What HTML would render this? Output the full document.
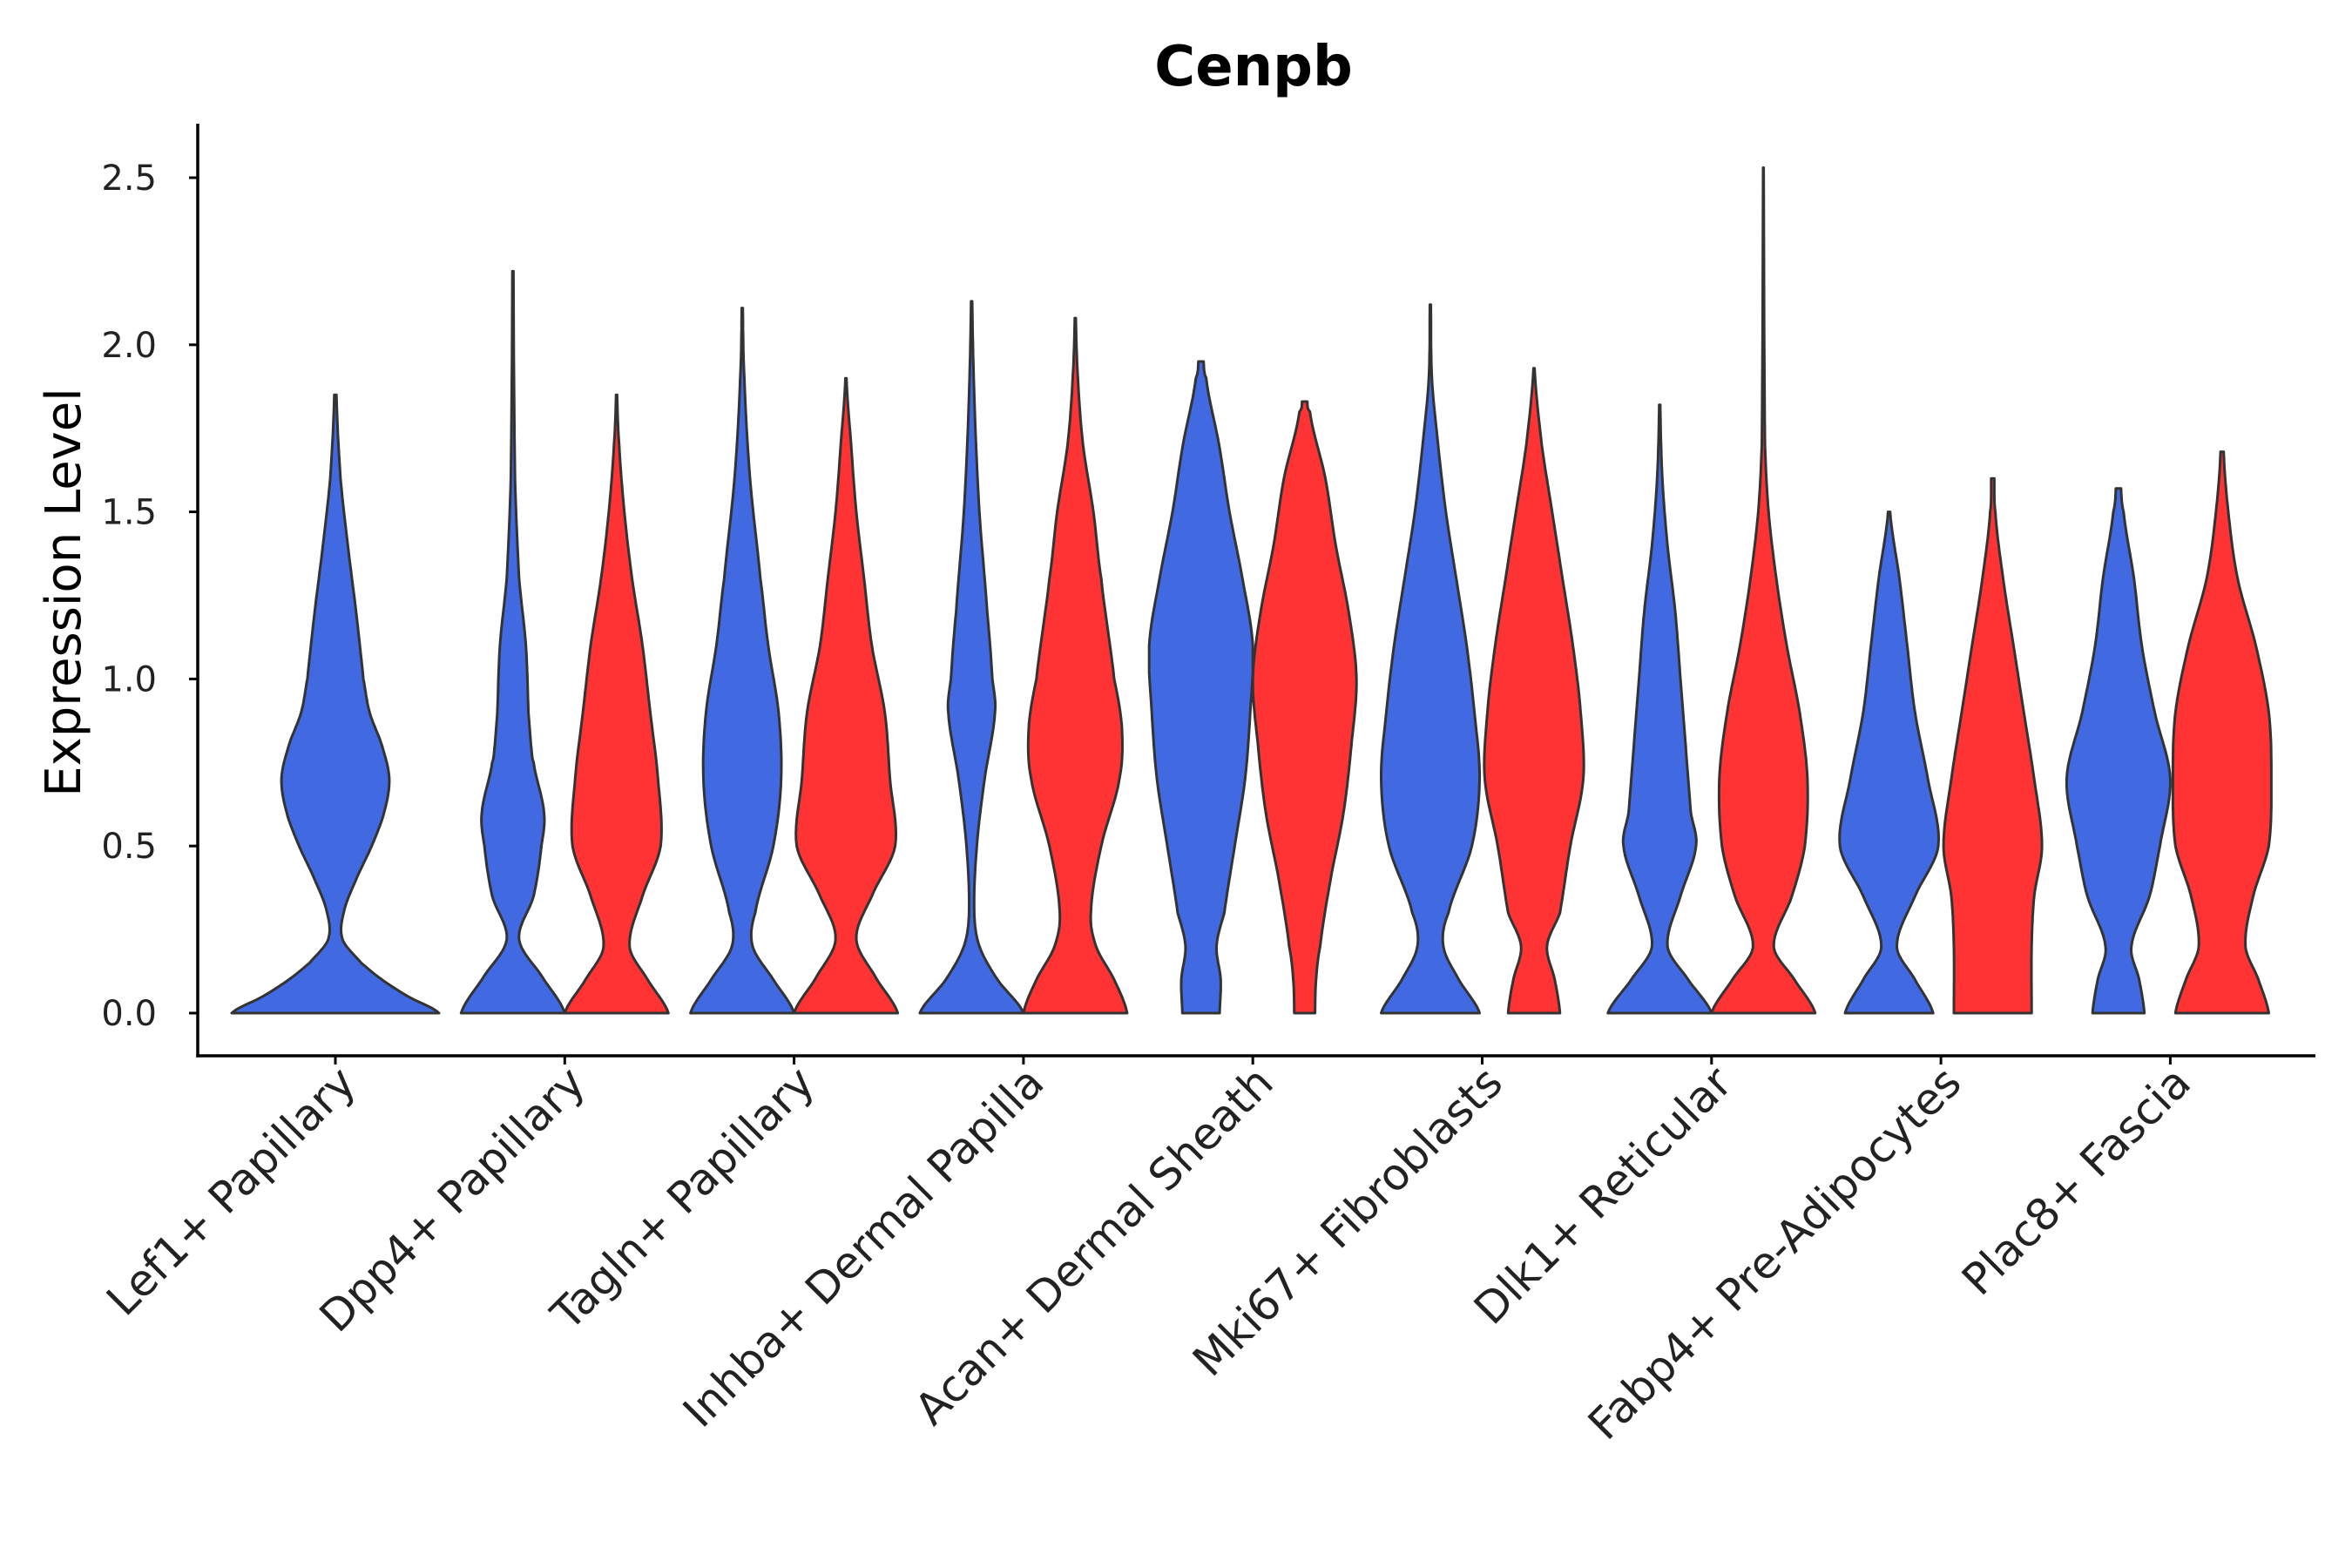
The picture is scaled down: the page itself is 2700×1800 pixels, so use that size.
<!DOCTYPE html>
<html><head><meta charset="utf-8"><style>
html,body{margin:0;padding:0;background:#fff;}
svg{display:block;font-family:"DejaVu Sans","Liberation Sans",sans-serif;}
</style></head><body>
<svg id="chart" width="2700" height="1800" viewBox="0 0 2700 1800" xmlns="http://www.w3.org/2000/svg">
<rect width="2700" height="1800" fill="#fff"/>
<text x="1439" y="98" text-anchor="middle" font-size="64" font-weight="bold">Cenpb</text>
<text transform="translate(92,680) rotate(-90)" text-anchor="middle" font-size="56">Expression Level</text>
<g id="violins"></g>
<g id="axes"></g>
</svg>
<script>
const categories = ["Lef1+ Papillary","Dpp4+ Papillary","Tagln+ Papillary","Inhba+ Dermal Papilla","Acan+ Dermal Sheath","Mki67+ Fibroblasts","Dlk1+ Reticular","Fabp4+ Pre-Adipocytes","Plac8+ Fascia"];
const yTicks = [0,0.5,1.0,1.5,2.0,2.5];
const yTickLabels = ["0.0","0.5","1.0","1.5","2.0","2.5"];
const violinCats = [0,1,1,2,2,3,3,4,4,5,5,6,6,7,7,8,8];
const violinGroups = [-1,0,1,0,1,0,1,0,1,0,1,0,1,0,1,0,1];
const violinProfiles = [
 [[0,1],[0.05,0.7],[0.1,0.45],[0.15,0.25],[0.22,0.07],[0.3,0.08],[0.4,0.2],[0.5,0.35],[0.6,0.47],[0.7,0.52],[0.8,0.45],[0.9,0.33],[1.0,0.27],[1.2,0.2],[1.4,0.12],[1.6,0.05],[1.85,0.01]],
 [[0,1],[0.1,0.6],[0.22,0.12],[0.35,0.4],[0.5,0.55],[0.6,0.6],[0.75,0.4],[0.8,0.35],[0.9,0.3],[1.1,0.25],[1.3,0.12],[1.6,0.04],[2.22,0.01]],
 [[0,1],[0.1,0.6],[0.2,0.25],[0.35,0.5],[0.5,0.85],[0.7,0.8],[0.9,0.65],[1.1,0.5],[1.3,0.3],[1.5,0.15],[1.7,0.05],[1.85,0.01]],
 [[0,1],[0.1,0.6],[0.2,0.2],[0.3,0.25],[0.5,0.6],[0.7,0.75],[0.9,0.7],[1.1,0.5],[1.3,0.35],[1.6,0.15],[1.9,0.04],[2.11,0.01]],
 [[0,1],[0.1,0.6],[0.22,0.2],[0.35,0.5],[0.5,0.95],[0.7,0.85],[0.9,0.75],[1.1,0.5],[1.3,0.35],[1.5,0.2],[1.7,0.1],[1.9,0.01]],
 [[0,1],[0.1,0.5],[0.2,0.15],[0.3,0.05],[0.5,0.1],[0.7,0.25],[0.9,0.45],[1.0,0.4],[1.2,0.3],[1.5,0.15],[1.8,0.06],[2.13,0.01]],
 [[0,1],[0.1,0.75],[0.2,0.4],[0.3,0.3],[0.5,0.5],[0.7,0.85],[0.85,0.9],[1.0,0.75],[1.3,0.5],[1.5,0.35],[1.7,0.15],[1.9,0.05],[2.08,0.01]],
 [[0,0.36],[0.1,0.38],[0.2,0.3],[0.3,0.45],[0.5,0.65],[0.7,0.85],[0.9,0.95],[1.1,1.0],[1.3,0.8],[1.5,0.55],[1.7,0.35],[1.9,0.1],[1.95,0.05]],
 [[0,0.2],[0.1,0.22],[0.2,0.3],[0.4,0.5],[0.6,0.75],[0.8,0.9],[1.0,1.0],[1.2,0.85],[1.4,0.6],[1.6,0.4],[1.8,0.1],[1.83,0.05]],
 [[0,0.95],[0.1,0.55],[0.2,0.25],[0.3,0.35],[0.5,0.8],[0.7,0.95],[0.9,0.85],[1.1,0.7],[1.3,0.5],[1.5,0.3],[1.7,0.15],[1.9,0.03],[2.12,0.01]],
 [[0,0.5],[0.1,0.4],[0.2,0.25],[0.3,0.5],[0.5,0.7],[0.7,0.95],[0.9,0.9],[1.1,0.75],[1.3,0.55],[1.5,0.35],[1.7,0.15],[1.93,0.01]],
 [[0,1],[0.1,0.55],[0.2,0.15],[0.35,0.4],[0.5,0.7],[0.6,0.6],[0.8,0.5],[1.0,0.4],[1.2,0.3],[1.4,0.15],[1.6,0.05],[1.82,0.01]],
 [[0,1],[0.1,0.6],[0.2,0.2],[0.35,0.55],[0.5,0.8],[0.7,0.85],[0.9,0.7],[1.1,0.45],[1.3,0.25],[1.5,0.1],[1.7,0.03],[2.53,0.005]],
 [[0,0.85],[0.1,0.5],[0.2,0.15],[0.35,0.5],[0.5,0.95],[0.7,0.75],[0.9,0.5],[1.1,0.35],[1.3,0.2],[1.5,0.02]],
 [[0,0.75],[0.2,0.75],[0.35,0.8],[0.5,0.95],[0.7,0.8],[0.9,0.6],[1.1,0.4],[1.3,0.2],[1.5,0.05],[1.6,0.03]],
 [[0,0.5],[0.1,0.4],[0.2,0.25],[0.35,0.6],[0.5,0.8],[0.7,1.0],[0.9,0.7],[1.1,0.45],[1.3,0.3],[1.5,0.1],[1.57,0.05]],
 [[0,0.9],[0.1,0.7],[0.2,0.45],[0.35,0.6],[0.5,0.9],[0.7,0.95],[0.9,0.9],[1.1,0.65],[1.3,0.3],[1.5,0.12],[1.68,0.03]]
];
const groupColors = ["#4169E1","#FF3333"];
const NS="http://www.w3.org/2000/svg";
const X0=227,X1=2658,YA=1212,YT=142;
function yScale(v){return 1163 - v*383.6;}
function xCat(i){return 385 + i*263.3;}
const SPLIT=59.5;
const vg=document.getElementById('violins');
violinProfiles.forEach((prof,k)=>{
  const g=violinGroups[k];
  const cx = g<0 ? xCat(violinCats[k]) : xCat(violinCats[k]) + (g===0?-SPLIT:SPLIT);
  const hw = g<0 ? SPLIT*2 : SPLIT;
  const pts=[];
  for(let j=0;j<prof.length-1;j++){
    const p0=prof[Math.max(j-1,0)],p1=prof[j],p2=prof[j+1],p3=prof[Math.min(j+2,prof.length-1)];
    for(let t=0;t<1;t+=0.1){
      const t2=t*t,t3=t2*t;
      const w=0.5*((2*p1[1])+(-p0[1]+p2[1])*t+(2*p0[1]-5*p1[1]+4*p2[1]-p3[1])*t2+(-p0[1]+3*p1[1]-3*p2[1]+p3[1])*t3);
      pts.push([p1[0]+(p2[0]-p1[0])*t, Math.max(0.004,Math.min(1,w))]);
    }
  }
  pts.push(prof[prof.length-1]);
  let d='';
  pts.forEach((p,i)=>{d+=(i?'L':'M')+(cx+p[1]*hw).toFixed(1)+','+yScale(p[0]).toFixed(1);});
  for(let i=pts.length-1;i>=0;i--){const p=pts[i];d+='L'+(cx-p[1]*hw).toFixed(1)+','+yScale(p[0]).toFixed(1);}
  d+='Z';
  const path=document.createElementNS(NS,'path');
  path.setAttribute('d',d);
  path.setAttribute('fill',groupColors[g<0?0:g]);
  path.setAttribute('stroke','#333');
  path.setAttribute('stroke-width','3');
  path.setAttribute('stroke-linejoin','round');
  
  
  vg.appendChild(path);
});
const ax=document.getElementById('axes');
function line(x1,y1,x2,y2,w,name){const l=document.createElementNS(NS,'line');l.setAttribute('x1',x1);l.setAttribute('y1',y1);l.setAttribute('x2',x2);l.setAttribute('y2',y2);l.setAttribute('stroke','#000');l.setAttribute('stroke-width',w);


ax.appendChild(l);}
line(X0,YT,X0,YA+1.7,3.5,'y-axis-line');
line(X0-1.7,YA,X1,YA,3.5,'x-axis-line');
yTicks.forEach((v,i)=>{
  const y=yScale(v);
  line(X0-10,y,X0,y,3,'y-tick');
  const t=document.createElementNS(NS,'text');
  t.setAttribute('x',180);t.setAttribute('y',y+14);t.setAttribute('text-anchor','end');t.setAttribute('font-size','40');t.setAttribute('fill','#222');
  t.textContent=yTickLabels[i];
  
  
  ax.appendChild(t);
});
categories.forEach((c,i)=>{
  const x=xCat(i);
  line(x,YA,x,YA+10,3,'x-tick');
  const t=document.createElementNS(NS,'text');
  t.setAttribute('transform','translate('+(x+26)+','+(YA+34)+') rotate(-45)');
  t.setAttribute('text-anchor','end');t.setAttribute('font-size','50');t.setAttribute('fill','#222');
  t.textContent=c;
  
  
  ax.appendChild(t);
});
</script>
</body></html>
